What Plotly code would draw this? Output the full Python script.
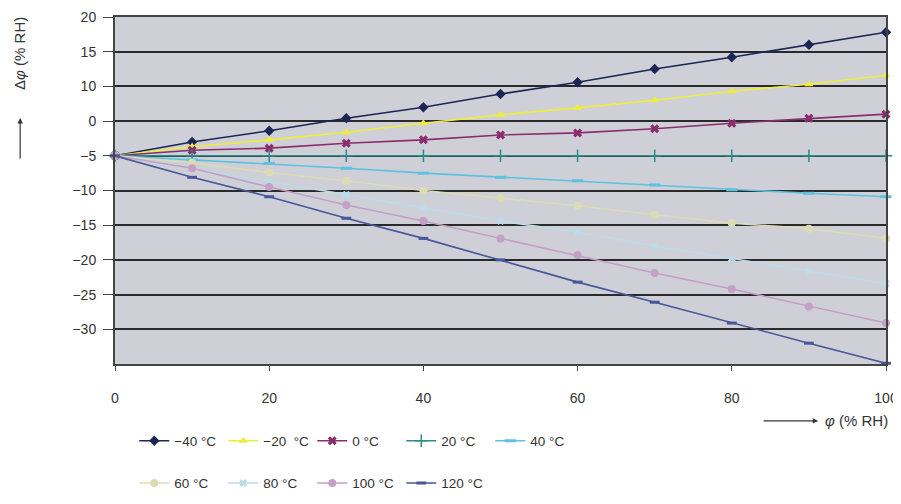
import plotly.graph_objects as go

# relative humidity (x) and deviation readings per temperature
rh = [0, 10, 20, 30, 40, 50, 60, 70, 80, 90, 100]

d_m40 = [-5, -3.0, -1.4, 0.4, 2.0, 3.9, 5.6, 7.5, 9.2, 11.0, 12.8]
d_m20 = [-5, -3.7, -2.7, -1.6, -0.3, 0.9, 1.9, 3.0, 4.3, 5.3, 6.6]
d_0 = [-5, -4.2, -3.9, -3.2, -2.7, -2.0, -1.7, -1.1, -0.3, 0.4, 1.0]
d_20 = [-5, -5, -5, -5, -5, -5, -5, -5, -5, -5, -5]
d_40 = [-5, -5.6, -6.1, -6.8, -7.5, -8.1, -8.6, -9.2, -9.9, -10.4, -10.9]
d_60 = [-5, -6.0, -7.4, -8.6, -10.0, -11.1, -12.2, -13.5, -14.7, -15.5, -16.9]
d_80 = [-5, -6.8, -8.7, -10.6, -12.5, -14.4, -16.0, -18.0, -19.8, -21.6, -23.4]
d_100 = [-5, -6.8, -9.5, -12.1, -14.4, -16.9, -19.3, -21.9, -24.2, -26.7, -29.1]
d_120 = [-5, -8.1, -10.9, -14.0, -16.9, -20.0, -23.2, -26.1, -29.1, -32.0, -34.9]

# y ticks as printed on the original chart
y_tickvals = [15, 10, 5, 0, -5, -10, -15, -20, -25, -30]
y_ticktext = ['20', '15', '10', '0', '−5', '−10', '−15', '−20', '−25', '−30']
x_tickvals = [0, 20, 40, 60, 80, 100]

series = [
    ('−40 °C', d_m40, '#1b2656', 'diamond', 8, 'legend'),
    ('−20  °C', d_m20, '#eeee3a', 'triangle-up', 8, 'legend'),
    ('0 °C', d_0, '#8a2d6c', 'x', 8, 'legend'),
    ('20 °C', d_20, '#2b8c8a', 'cross-thin', 9, 'legend'),
    ('40 °C', d_40, '#5cc2e0', 'line-ew', 8, 'legend'),
    ('60 °C', d_60, '#dcdcb4', 'circle', 8, 'legend2'),
    ('80 °C', d_80, '#bcdbe6', 'x', 7, 'legend2'),
    ('100 °C', d_100, '#c49fc6', 'circle', 8, 'legend2'),
    ('120 °C', d_120, '#47579a', 'line-ew', 7, 'legend2'),
]

fig = go.Figure()

for name, vals, color, sym, size, leg in series:
    marker = dict(symbol=sym, size=size, color=color)
    if sym.startswith('line'):
        marker['line'] = dict(color=color, width=3)
    elif sym == 'cross-thin':
        marker['line'] = dict(color=color, width=1.5)
    fig.add_trace(go.Scatter(
        x=rh, y=vals, name=name, mode='lines+markers',
        line=dict(color=color, width=1.6),
        marker=marker, legend=leg,
        cliponaxis=False
    ))

leg_style = dict(orientation='h', x=0.025, xanchor='left', yanchor='middle', yref='container',
                 entrywidth=44, itemwidth=30, font=dict(size=13.5),
                 bgcolor='rgba(0,0,0,0)')

# page body adds an 8px offset, so the figure is a bit smaller than the window
fig.update_layout(
    width=893, height=496,
    margin=dict(l=107, r=15, t=9, b=140),
    paper_bgcolor='white',
    plot_bgcolor='#cecfd7',
    font=dict(family='Liberation Sans, Arial', size=14, color='#333333'),
    showlegend=True,
    legend=dict(y=0.127, **leg_style),
    legend2=dict(y=0.042, **leg_style),
    xaxis=dict(range=[0, 100], tickvals=x_tickvals, showgrid=False, zeroline=False,
               showline=True, linecolor='#444444', linewidth=2, mirror=True,
               ticks='outside', ticklen=5, tickcolor='#444444', ticklabelstandoff=15,
               automargin=False),
    yaxis=dict(range=[-35, 15], tickvals=y_tickvals, ticktext=y_ticktext,
               showgrid=True, gridcolor='#2a2a2a', gridwidth=2, zeroline=False,
               showline=True, linecolor='#444444', linewidth=2, mirror=True,
               ticks='outside', ticklen=10, tickcolor='#444444', ticklabelstandoff=4,
               automargin=False),
)

# y title with a long upward arrow below it
fig.add_annotation(xref='paper', yref='paper', x=-0.123, y=1.005, xanchor='center', yanchor='top',
                   text='Δ<i>φ</i> (% RH)', textangle=-90, showarrow=False,
                   font=dict(size=15, color='#333333'))
fig.add_annotation(xref='paper', yref='paper', x=-0.123, y=0.709, ax=0, ay=42,
                   axref='pixel', ayref='pixel', text='', showarrow=True,
                   arrowhead=2, arrowsize=0.9, arrowwidth=1.2, arrowcolor='#333333')
# x title with a long arrow before it
fig.add_annotation(xref='paper', yref='paper', x=1.005, y=-0.164, xanchor='right', yanchor='middle',
                   text='<i>φ</i> (% RH)', showarrow=False,
                   font=dict(size=15, color='#333333'))
fig.add_annotation(xref='paper', yref='paper', x=0.912, y=-0.164, ax=-56, ay=0,
                   axref='pixel', ayref='pixel', text='', showarrow=True,
                   arrowhead=2, arrowsize=0.9, arrowwidth=1.2, arrowcolor='#333333')

fig.write_html("out.html")
